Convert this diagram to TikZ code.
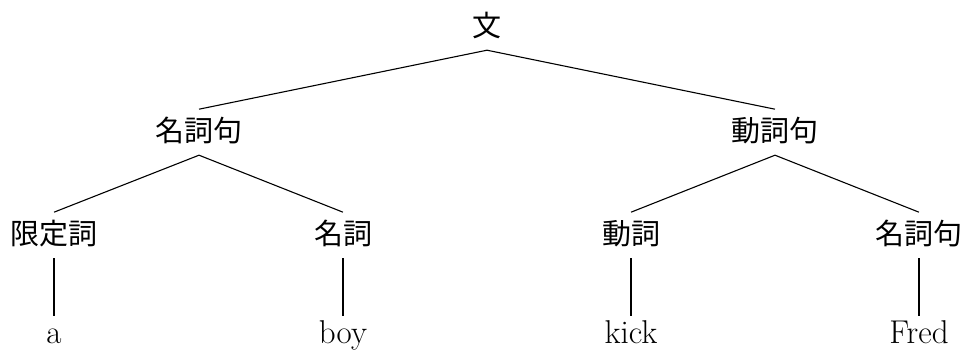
\documentclass[tikz,border=0pt]{standalone}
\usepackage{fontspec}
\newfontfamily\cjk{Noto Sans CJK JP}
\begin{document}
\begin{tikzpicture}[x=1pt,y=1pt,
  cat/.style={anchor=base, inner sep=0pt, text height=16pt, text depth=6.6pt, font=\cjk\fontsize{14.5}{17}\selectfont},
  leaf/.style={anchor=base, inner sep=0pt, text height=13.5pt, text depth=3pt, font=\fontsize{16.5}{19}\selectfont},
  br/.style={draw=black, line width=0.55pt}]
\useasboundingbox (0,0) rectangle (482.5,174.5);
\node[cat] (s) at (243.5,156.2) {文};
\node[cat] (np1) at (99.5,103.7) {名詞句};
\node[cat] (vp) at (387.5,103.7) {動詞句};
\node[cat] (det) at (27,52.2) {限定詞};
\node[cat] (n) at (171.5,52.2) {名詞};
\node[cat] (v) at (315.5,52.2) {動詞};
\node[cat] (np2) at (459.5,52.2) {名詞句};
\node[leaf] (a) at (27,3) {a};
\node[leaf] (boy) at (171.5,3) {boy};
\node[leaf] (kick) at (315.5,3) {kick};
\node[leaf] (fred) at (459.5,3) {Fred};
\draw[br] (s.south) -- (np1.north);
\draw[br] (s.south) -- (vp.north);
\draw[br] (np1.south) -- (det.north);
\draw[br] (np1.south) -- (n.north);
\draw[br] (vp.south) -- (v.north);
\draw[br] (vp.south) -- (np2.north);
\draw[br] (det.south) -- (a.north);
\draw[br] (n.south) -- (boy.north);
\draw[br] (v.south) -- (kick.north);
\draw[br] (np2.south) -- (fred.north);
\end{tikzpicture}
\end{document}
